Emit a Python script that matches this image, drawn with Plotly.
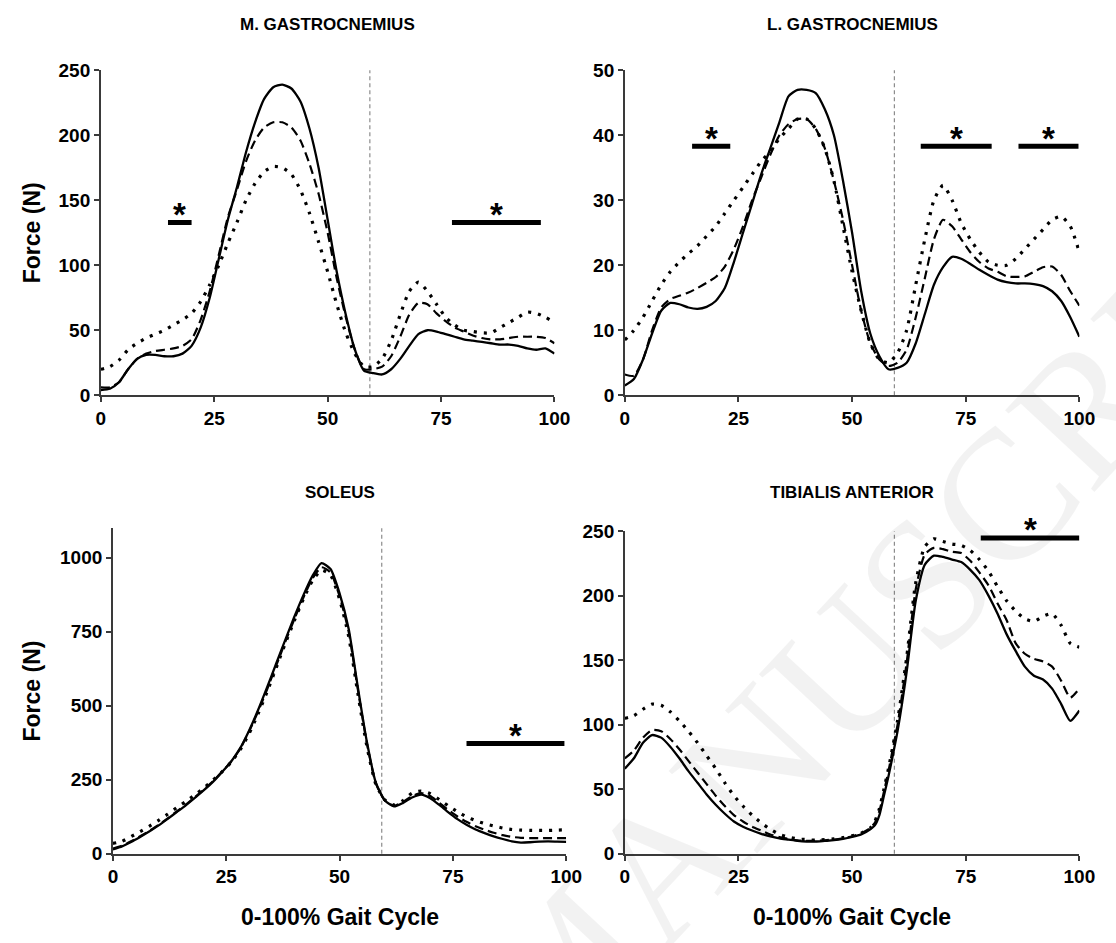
import plotly.graph_objects as go

# ---------------- data ----------------
x_even = list(range(0, 101, 2))

# M. GASTROCNEMIUS
mg_solid = [4, 5, 10, 20, 28, 31, 31, 30, 30, 32, 38, 52, 75, 105, 135, 160, 187, 210, 228, 237,
            239, 236, 226, 205, 175, 135, 95, 62, 35, 19, 17, 16, 20, 28, 38, 47, 50, 49, 47, 45,
            43, 42, 41, 40, 39, 39, 38, 36, 35, 36, 32]
mg_dash = [6, 6, 10, 20, 28, 32, 34, 35, 36, 38, 43, 58, 80, 108, 137, 158, 180, 196, 206, 210,
           210, 206, 196, 178, 155, 125, 90, 60, 35, 20, 20, 22, 30, 45, 62, 71, 70, 63, 57, 52,
           49, 46, 44, 43, 43, 44, 45, 45, 45, 44, 40]
mg_dot = [20, 22, 27, 35, 40, 44, 47, 50, 54, 58, 63, 72, 85, 100, 117, 133, 150, 163, 172, 176,
          175, 170, 158, 140, 118, 95, 70, 48, 32, 22, 22, 28, 42, 62, 80, 87, 80, 70, 60, 54,
          50, 49, 48, 48, 52, 56, 60, 64, 63, 60, 56]

# L. GASTROCNEMIUS
lg_solid = [1.5, 2.5, 5.5, 9.5, 13, 14.2, 14, 13.5, 13.3, 13.6, 14.5, 16.5, 20.5, 25, 29.5, 34, 38,
            42, 46, 47, 47, 46.5, 44, 40, 33, 25, 16, 9.5, 6, 4, 4.2, 5, 8, 12.5, 17, 19.7, 21.3,
            21, 20.2, 19.3, 18.5, 17.8, 17.4, 17.2, 17.2, 17.1, 16.8, 16, 14.5, 12, 9]
lg_dash = [3.2, 3, 5.5, 10, 13.5, 14.8, 15.3, 15.8, 16.5, 17.3, 18.2, 19.8, 22.5, 26, 30, 33.5, 37,
           40, 41.7, 42.5, 42.5, 41, 38, 33, 27, 20, 13, 8, 5.5, 4.5, 5, 7, 12, 18, 24, 27, 26,
           24, 22, 20.5, 19.5, 19, 18.3, 18.2, 18.3, 19, 19.7, 19.8, 18.5, 16, 13.8]
lg_dot = [8.5, 10, 12, 14.5, 17, 19, 20.5, 21.8, 23, 24.5, 26, 28, 30, 32, 34, 36, 37.5, 39.5, 41,
          42.5, 42.5, 41, 38, 33, 26, 19, 13, 8, 5.5, 5, 6.5, 10, 17, 24, 30, 32.3, 30, 26.5, 24,
          22, 20.5, 20, 20, 21, 22.5, 24, 25.5, 27, 27.5, 26, 22]

# SOLEUS
so_solid = [15, 25, 40, 57, 75, 95, 117, 140, 163, 188, 214, 242, 275, 310, 355, 415, 485, 562,
            642, 722, 800, 873, 938, 982, 962, 880, 760, 565, 380, 240, 180, 160, 172, 190, 200,
            188, 165, 140, 117, 98, 82, 70, 59, 50, 42, 38, 39, 41, 42, 41, 40]
so_dash = [18, 27, 42, 59, 77, 97, 119, 142, 165, 190, 216, 244, 276, 310, 353, 412, 480, 555,
           635, 715, 792, 865, 930, 968, 950, 870, 750, 558, 375, 238, 180, 162, 175, 195, 205,
           195, 172, 148, 126, 108, 93, 81, 71, 63, 57, 54, 53, 53, 53, 53, 53]
so_dot = [35, 42, 58, 75, 93, 112, 133, 155, 176, 198, 222, 248, 276, 308, 350, 405, 472, 547,
          628, 710, 787, 860, 922, 958, 942, 860, 735, 545, 365, 235, 182, 165, 180, 205, 212,
          203, 183, 162, 142, 125, 112, 102, 94, 87, 82, 80, 79, 79, 79, 80, 81]

# TIBIALIS ANTERIOR
x_ta = list(range(0, 54, 2)) + [54, 55, 56, 57, 58, 59, 60] + list(range(62, 101, 2))
ta_solid = [66, 74, 86, 92, 90, 83, 74, 64, 55, 46, 38, 31, 25, 21, 18, 15.5, 13.5, 12, 11, 10,
            9.5, 9.5, 10, 10.5, 11.5, 13, 15, 19, 22, 30, 45, 60, 77, 95, 141, 196, 224, 231,
            230, 228, 226, 220, 212, 200, 186, 170, 157, 145, 138, 135, 128, 116, 103, 111]
ta_dash = [74, 80, 90, 96, 95, 89, 81, 72, 63, 54, 45, 37, 30, 25, 21, 18, 15, 13, 11.5, 10.5,
           10, 10, 10.5, 11, 12, 13.5, 16, 20, 24, 33, 48, 64, 82, 100, 148, 205, 232, 237,
           236, 234, 233, 227, 218, 208, 194, 181, 163, 155, 151, 149, 145, 134, 121, 128]
ta_dot = [105, 107, 112, 116, 115, 110, 103, 95, 86, 76, 66, 55, 45, 37, 30, 24, 19, 15, 13,
          11.5, 11, 10.5, 11, 11.5, 12.5, 14, 16, 20, 25, 35, 50, 66, 84, 103, 152, 210, 238,
          244, 242, 240, 239, 235, 228, 219, 207, 196, 188, 182, 180, 184, 186, 177, 163, 160]

titles = ["M. GASTROCNEMIUS", "L. GASTROCNEMIUS", "SOLEUS", "TIBIALIS ANTERIOR"]
y_ranges = [[0, 250], [0, 50], [0, 1100], [0, 250]]
y_ticks = [[0, 50, 100, 150, 200, 250], [0, 10, 20, 30, 40, 50],
           [0, 250, 500, 750, 1000], [0, 50, 100, 150, 200, 250]]
x_ticks = [0, 25, 50, 75, 100]
toe_off = 59.3

# significance bars: (start, end, level) per panel
sig_bars = [
    [(14.8, 20.0, 133), (77.4, 97.0, 133)],
    [(14.8, 23.2, 38.3), (65.1, 80.7, 38.3), (86.6, 99.8, 38.3)],
    [(78.0, 99.6, 373)],
    [(78.3, 100.0, 244.7)],
]

panels = [
    (x_even, mg_solid, mg_dash, mg_dot),
    (x_even, lg_solid, lg_dash, lg_dot),
    (x_even, so_solid, so_dash, so_dot),
    (x_ta, ta_solid, ta_dash, ta_dot),
]

# ---------------- layout geometry ----------------
W, H = 1116, 943
def px_x(a, b):
    return [a / W, b / W]
def px_y(top, bottom):
    return [1 - bottom / H, 1 - top / H]

x_domains = [px_x(97.7, 560), px_x(631.7, 1095), px_x(110, 572), px_x(631.7, 1095)]
y_domains = [px_y(61.7, 394), px_y(61.7, 394), px_y(530, 863), px_y(533, 863)]

FONT = "Liberation Sans, Arial, Helvetica, sans-serif"
fig = go.Figure()

styles = [
    dict(color="black", width=2.3, dash="solid"),
    dict(color="black", width=2.2, dash="9px,5px"),
    dict(color="black", width=3.2, dash="3px,7px"),
]

for i, (xs, s1, s2, s3) in enumerate(panels):
    xa = "x" if i == 0 else f"x{i+1}"
    ya = "y" if i == 0 else f"y{i+1}"
    for ys, st in zip([s1, s2, s3], styles):
        fig.add_trace(go.Scatter(x=xs, y=ys, mode="lines", xaxis=xa, yaxis=ya,
                                 line=dict(shape="spline", smoothing=0.6, **st),
                                 showlegend=False, hoverinfo="skip"))
    # toe-off line
    fig.add_shape(type="line", xref=xa, yref=f"{ya} domain", x0=toe_off, x1=toe_off,
                  y0=0, y1=1, line=dict(color="#8c8c8c", width=1.2, dash="4px,3px"), layer="below")
    # significance bars
    for (a, b, lvl) in sig_bars[i]:
        fig.add_trace(go.Scatter(x=[a, b], y=[lvl, lvl], mode="lines", xaxis=xa, yaxis=ya,
                                 line=dict(color="black", width=5), showlegend=False,
                                 hoverinfo="skip", cliponaxis=False))
        fig.add_annotation(x=(a + b) / 2, y=lvl, xref=xa, yref=ya, text="*", showarrow=False,
                           xanchor="center", yanchor="middle", yshift=8,
                           font=dict(family=FONT, size=33, color="black", weight="bold"))

axis_common = dict(showgrid=False, zeroline=False, showline=True, linecolor="#3a3a3a",
                   linewidth=1.6, ticks="outside", ticklen=5, tickwidth=1.5, tickcolor="#3a3a3a",
                   tickfont=dict(family=FONT, size=19, color="black", weight="bold"))

layout_axes = {}
for i in range(4):
    xn = "xaxis" if i == 0 else f"xaxis{i+1}"
    yn = "yaxis" if i == 0 else f"yaxis{i+1}"
    ya = "y" if i == 0 else f"y{i+1}"
    xa = "x" if i == 0 else f"x{i+1}"
    layout_axes[xn] = dict(domain=x_domains[i], range=[0, 100], tickvals=x_ticks,
                           anchor=ya, **axis_common)
    layout_axes[yn] = dict(domain=y_domains[i], range=y_ranges[i], tickvals=y_ticks[i],
                           anchor=xa, **axis_common)

fig.update_layout(width=W, height=H, margin=dict(l=0, r=0, t=0, b=0),
                  plot_bgcolor="white", paper_bgcolor="white", **layout_axes)

# panel titles
title_y = [15, 15, 493, 493]
for i, t in enumerate(titles):
    cx = (x_domains[i][0] + x_domains[i][1]) / 2
    fig.add_annotation(x=cx, y=1 - title_y[i] / H, xref="paper", yref="paper", text=t,
                       showarrow=False, xanchor="center", yanchor="middle",
                       font=dict(family=FONT, size=17, color="black", weight="bold"))

# axis titles
for i in (0, 2):
    cy = (y_domains[i][0] + y_domains[i][1]) / 2
    fig.add_annotation(x=27 / W, y=cy, xref="paper", yref="paper", text="Force (N)",
                       textangle=-90, showarrow=False, xanchor="center", yanchor="middle",
                       font=dict(family=FONT, size=23, color="black", weight="bold"))
for i in (2, 3):
    cx = (x_domains[i][0] + x_domains[i][1]) / 2
    fig.add_annotation(x=cx, y=1 - 928 / H, xref="paper", yref="paper",
                       text="0-100% Gait Cycle", showarrow=False, xanchor="center",
                       yanchor="middle",
                       font=dict(family=FONT, size=23, color="black", weight="bold"))

# watermark
fig.add_annotation(x=575 / W, y=1 - 975 / H, xref="paper", yref="paper",
                   text="ACCEPTED MANUSCRIPT", textangle=-47, showarrow=False,
                   xanchor="center", yanchor="middle",
                   font=dict(family="Liberation Serif, Times New Roman, serif", size=185,
                             color="rgba(0,0,0,0.05)"))

fig.write_html("out.html")
